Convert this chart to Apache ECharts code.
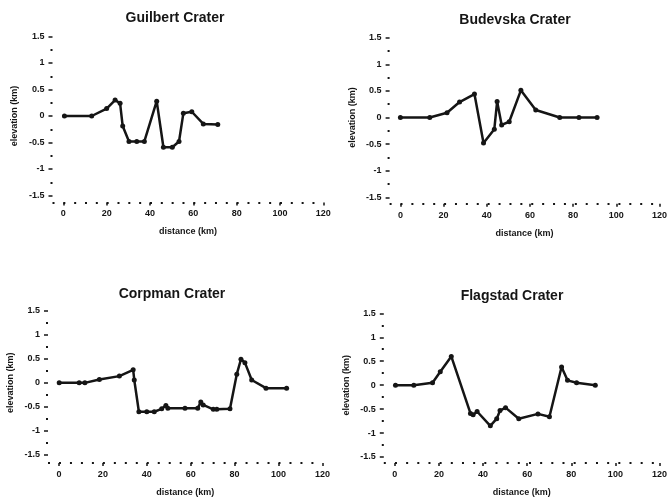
<!DOCTYPE html>
<html>
<head>
<meta charset="utf-8">
<script src="https://cdn.jsdelivr.net/npm/echarts@6/dist/echarts.min.js"></script>
<style>
html,body{margin:0;padding:0;background:#fff;}
#c{width:670px;height:498px;}
</style>
</head>
<body>
<div id="c"></div>
<script>
// ---- data ----
const titles = ['Guilbert Crater', 'Budevska Crater', 'Corpman Crater', 'Flagstad Crater'];
const xTickValues = [0, 20, 40, 60, 80, 100, 120];
const yTickValues = [-1.5, -1, -0.5, 0, 0.5, 1, 1.5];

const guilbertDist = [0.5, 13.1, 20.0, 23.9, 26.2, 27.4, 30.3, 33.9, 37.4, 43.1, 46.2, 50.3, 53.4, 55.4, 59.3, 64.6, 71.3];
const guilbertElev = [0, 0, 0.14, 0.30, 0.24, -0.19, -0.48, -0.48, -0.48, 0.28, -0.59, -0.59, -0.48, 0.05, 0.08, -0.15, -0.16];

const budevskaDist = [0, 13.6, 21.6, 27.4, 34.3, 38.5, 43.5, 44.8, 46.9, 50.4, 55.8, 62.7, 73.8, 82.7, 91.1];
const budevskaElev = [0, 0, 0.09, 0.29, 0.44, -0.48, -0.22, 0.30, -0.14, -0.08, 0.51, 0.14, 0, 0, 0];

const corpmanDist = [0.1, 9.2, 11.8, 18.4, 27.5, 33.8, 34.3, 36.4, 40.0, 43.4, 46.8, 48.7, 49.6, 57.4, 63.2, 64.6, 65.7, 70.3, 71.9, 77.9, 81.0, 82.9, 84.7, 87.8, 94.3, 103.7];
const corpmanElev = [0, 0, 0, 0.07, 0.14, 0.27, 0.06, -0.6, -0.6, -0.6, -0.54, -0.47, -0.53, -0.53, -0.53, -0.4, -0.46, -0.55, -0.55, -0.54, 0.18, 0.49, 0.42, 0.06, -0.11, -0.11];

const flagstadDist = [0.3, 8.6, 17.1, 20.6, 25.6, 34.3, 35.5, 37.3, 43.3, 46.2, 47.7, 50.2, 56.2, 64.9, 70.1, 75.6, 78.3, 82.4, 90.9];
const flagstadElev = [0, 0, 0.05, 0.28, 0.60, -0.59, -0.62, -0.55, -0.85, -0.70, -0.53, -0.47, -0.70, -0.60, -0.66, 0.38, 0.10, 0.05, 0];

// ---- layout ----
const panels = [
  {dist: guilbertDist, elev: guilbertElev, left: 52.5, top: 36.5, width: 270.8, height: 159, offset: 7, tx: 175, ty: 18},
  {dist: budevskaDist, elev: budevskaElev, left: 389.6, top: 37.7, width: 272.4, height: 159.6, offset: 6.5, tx: 515, ty: 20},
  {dist: corpmanDist, elev: corpmanElev, left: 48, top: 310.7, width: 274.4, height: 150.6, offset: 8, tx: 172, ty: 294},
  {dist: flagstadDist, elev: flagstadElev, left: 383.8, top: 313.3, width: 279.2, height: 150.7, offset: 6, tx: 512, ty: 296}
];

const FONT = '"Liberation Sans", Arial, sans-serif';
const ink = '#151515';

const chart = echarts.init(document.getElementById('c'), null, {renderer: 'canvas'});

const grid = [], xAxis = [], yAxis = [], series = [], graphic = [];
panels.forEach((p, i) => {
  grid.push({left: p.left, top: p.top, width: p.width, height: p.height, containLabel: false});
  const period = p.width / 25; // 5 km spacing of the dotted axis
  xAxis.push({
    type: 'value', gridIndex: i, min: -5, max: 120, offset: p.offset, position: 'bottom',
    name: 'distance (km)', nameLocation: 'middle', nameGap: 25,
    nameTextStyle: {fontFamily: FONT, fontWeight: 'bold', fontSize: 9, color: ink},
    axisLine: {show: true, onZero: false, lineStyle: {color: ink, width: 2, type: [2, period - 2], cap: 'butt'}},
    axisTick: {show: true, customValues: xTickValues, length: 3, lineStyle: {color: ink, width: 1.5}},
    axisLabel: {show: true, customValues: xTickValues, margin: 7, fontFamily: FONT, fontWeight: 'bold', fontSize: 9, color: ink},
    splitLine: {show: false}
  });
  yAxis.push({
    type: 'value', gridIndex: i, min: -1.5, max: 1.5, interval: 0.5, position: 'left',
    name: 'elevation (km)', nameLocation: 'middle', nameGap: 33, nameRotate: 90,
    nameTextStyle: {fontFamily: FONT, fontWeight: 'bold', fontSize: 9, color: ink},
    axisLine: {show: false, onZero: false},
    axisTick: {show: true, length: 4, lineStyle: {color: ink, width: 1.5}},
    minorTick: {show: true, splitNumber: 2, length: 2, lineStyle: {color: ink, width: 2}},
    axisLabel: {show: true, margin: 8, fontFamily: FONT, fontWeight: 'bold', fontSize: 9, color: ink,
      formatter: v => String(v)},
    splitLine: {show: false}
  });
  series.push({
    type: 'line', xAxisIndex: i, yAxisIndex: i,
    data: p.dist.map((d, k) => [d, p.elev[k]]),
    symbol: 'circle', symbolSize: 5,
    lineStyle: {color: ink, width: 2.5},
    itemStyle: {color: ink},
    animation: false
  });
  graphic.push({
    type: 'text', x: p.tx, y: p.ty,
    style: {text: titles[i], fill: ink, font: 'bold 14px ' + FONT, textAlign: 'center', textVerticalAlign: 'middle'}
  });
});

chart.setOption({
  backgroundColor: '#ffffff',
  animation: false,
  grid, xAxis, yAxis, series, graphic
});
</script>
</body>
</html>
